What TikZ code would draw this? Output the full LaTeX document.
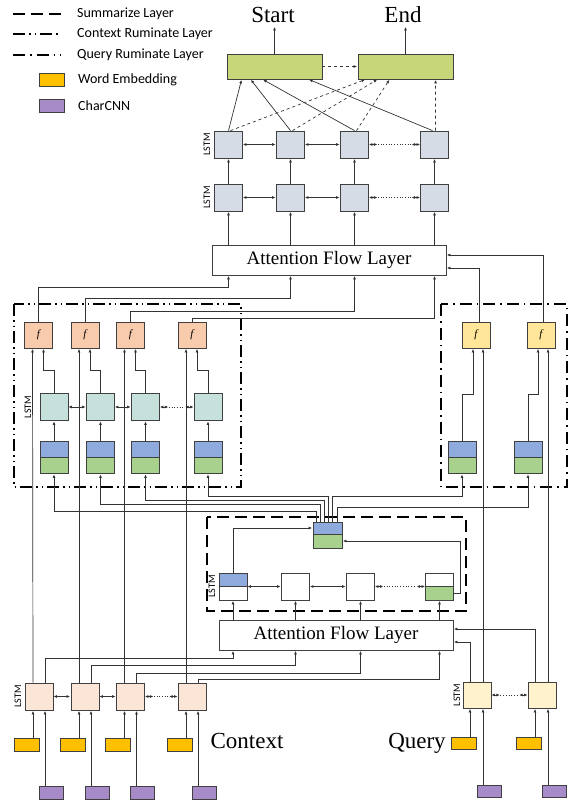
\documentclass[tikz,border=0pt]{standalone}
\usepackage{fontspec}
\setmainfont{Liberation Serif}
\newfontfamily\legendfont{Carlito}
\usetikzlibrary{arrows.meta}
\definecolor{outGreen}{HTML}{C8D67A}
\definecolor{modGray}{HTML}{D6DCE5}
\definecolor{rumTeal}{HTML}{C6E0DC}
\definecolor{ctxPeach}{HTML}{FBE5D6}
\definecolor{qryYellow}{HTML}{FFF2CC}
\definecolor{fCtx}{HTML}{F8CBAD}
\definecolor{fQry}{HTML}{FFE699}
\definecolor{embBlue}{HTML}{8FAADC}
\definecolor{embGreen}{HTML}{A9D18E}
\definecolor{wordOrange}{HTML}{FFC000}
\definecolor{charPurple}{HTML}{A68BC8}

\tikzset{
  >={Latex[length=3.5pt,width=3pt]},
  conn/.style={draw=black!80, line width=0.7pt, shorten >=0.5pt},
  cell/.style={draw=black!75, line width=0.8pt, minimum width=28pt, minimum height=27pt, inner sep=0pt},
  halfbox/.style={draw=black!75, line width=0.8pt, minimum width=28pt, minimum height=16pt, inner sep=0pt},
  fbox/.style={cell, minimum height=26pt, font=\itshape\fontsize{11}{13}\selectfont},
  outbox/.style={draw=black!75, line width=0.8pt, fill=outGreen, minimum width=95pt, minimum height=25pt},
  attbox/.style={draw=black!75, line width=0.8pt, minimum width=234pt, minimum height=30pt, font=\fontsize{19}{22}\selectfont},
  wordbox/.style={draw=black!75, line width=0.6pt, fill=wordOrange, minimum width=25pt, minimum height=13pt, inner sep=0pt},
  charbox/.style={draw=black!75, line width=0.6pt, fill=charPurple, minimum width=24pt, minimum height=13pt, inner sep=0pt},
  bigtext/.style={font=\fontsize{23}{27}\selectfont, inner sep=3pt, anchor=base},
  legtext/.style={font=\legendfont\fontsize{14}{16}\selectfont, inner sep=0pt, anchor=west},
  lstmlabel/.style={rotate=90, font=\legendfont\fontsize{10}{12}\selectfont, inner sep=0pt},
  topblue/.style={path picture={\fill[embBlue] (path picture bounding box.north west) rectangle (path picture bounding box.east);
      \draw[black!75] (path picture bounding box.west) -- (path picture bounding box.east);}},
  botgreen/.style={path picture={\fill[embGreen] (path picture bounding box.west) rectangle (path picture bounding box.south east);
      \draw[black!75] (path picture bounding box.west) -- (path picture bounding box.east);}},
  sumframe/.style={line width=1.5pt, dash pattern=on 12pt off 6pt},
  ctxframe/.style={line width=1.4pt, dash pattern=on 12pt off 4pt on 1.5pt off 4pt on 1.5pt off 4pt},
  qryframe/.style={line width=1.4pt, dash pattern=on 12pt off 5pt on 1.5pt off 5pt}
}
% two short double arrows joined by a dotted gap
\newcommand{\dottedlink}[2]{%
  \draw[conn,<->] (#1.east) -- ++(9,0);
  \draw[conn,<->] (#2.west) -- ++(-9,0);
  \draw[black!80, line width=0.7pt, dotted] ([xshift=9pt]#1.east) -- ([xshift=-9pt]#2.west);}

\begin{document}
\begin{tikzpicture}[x=1pt,y=-1pt]
\useasboundingbox (0,0) rectangle (569,802);

% legend
\draw[sumframe] (13,14) -- (61,14);
\draw[ctxframe] (13,34) -- (61,34);
\draw[qryframe] (13,55) -- (61,55);
\node[legtext] (legsum) at (77,14) {Summarize Layer};
\node[legtext] (legctx) at (77,34) {Context Ruminate Layer};
\node[legtext] (legqry) at (77,55) {Query Ruminate Layer};
\node[wordbox] (legword) at (51.5,80) {};
\node[legtext] (legwordtxt) at (78,80) {Word Embedding};
\node[charbox, minimum width=25pt] (legchar) at (51.5,106) {};
\node[legtext] (legchartxt) at (78,106) {CharCNN};

% output layer
\node[bigtext] (starttxt) at (273,23) {Start};
\node[bigtext] (endtxt) at (403,23) {End};
\node[outbox] (startbox) at (274.5,66.5) {};
\node[outbox] (endbox) at (405.5,66.5) {};
\draw[conn,->] (startbox.north) -- (startbox.north |- starttxt.south);
\draw[conn,->] (endbox.north) -- (endbox.north |- endtxt.south);
\draw[conn,->,dashed] (startbox.east) -- (endbox.west);

% modeling layer
\node[cell, fill=modGray] (mA1) at (228.5,144.5) {};
\node[cell, fill=modGray] (mA2) at (290.5,144.5) {};
\node[cell, fill=modGray] (mA3) at (354.5,144.5) {};
\node[cell, fill=modGray] (mA4) at (434.5,144.5) {};
\node[cell, fill=modGray] (mB1) at (228.5,197.5) {};
\node[cell, fill=modGray] (mB2) at (290.5,197.5) {};
\node[cell, fill=modGray] (mB3) at (354.5,197.5) {};
\node[cell, fill=modGray] (mB4) at (434.5,197.5) {};
\node[lstmlabel] (lblA) at (207,144.5) {LSTM};
\node[lstmlabel] (lblB) at (207,197.5) {LSTM};
\draw[conn,->] (mA1.north) -- ([xshift=15pt]startbox.south west);
\draw[conn,->] (mA2.north) -- ([xshift=24pt]startbox.south west);
\draw[conn,->] (mA3.north) -- ([xshift=36pt]startbox.south west);
\draw[conn,->] ([xshift=-2pt]mA4.north) -- ([xshift=82pt]startbox.south west);
\draw[conn,->,dashed] ([xshift=2pt]mA1.north) -- ([xshift=8pt]endbox.south west);
\draw[conn,->,dashed] ([xshift=2pt]mA2.north) -- ([xshift=20pt]endbox.south west);
\draw[conn,->,dashed] ([xshift=2pt]mA3.north) -- ([xshift=32pt]endbox.south west);
\draw[conn,->,dashed] ([xshift=1pt]mA4.north) -- ([xshift=78pt]endbox.south west);
\draw[conn,->] (mB1.north) -- (mA1.south);
\draw[conn,->] (mB2.north) -- (mA2.south);
\draw[conn,->] (mB3.north) -- (mA3.south);
\draw[conn,->] (mB4.north) -- (mA4.south);
\draw[conn,<->] (mA1.east) -- (mA2.west);
\draw[conn,<->] (mA2.east) -- (mA3.west);
\dottedlink{mA3}{mA4}
\draw[conn,<->] (mB1.east) -- (mB2.west);
\draw[conn,<->] (mB2.east) -- (mB3.west);
\dottedlink{mB3}{mB4}

% upper attention flow
\node[attbox] (att1) at (329,260) {Attention Flow Layer};
\draw[conn,->] (mB1 |- att1.north) -- (mB1.south);
\draw[conn,->] (mB2 |- att1.north) -- (mB2.south);
\draw[conn,->] (mB3 |- att1.north) -- (mB3.south);
\draw[conn,->] (mB4 |- att1.north) -- (mB4.south);

% context ruminate layer
\draw[ctxframe] (14,304) rectangle (241,487);
\node[fbox, fill=fCtx] (fc1) at (38.5,335) {f};
\node[fbox, fill=fCtx] (fc2) at (85,335) {f};
\node[fbox, fill=fCtx] (fc3) at (130.5,335) {f};
\node[fbox, fill=fCtx] (fc4) at (192,335) {f};
\node[cell, fill=rumTeal] (rc1) at (54,407) {};
\node[cell, fill=rumTeal] (rc2) at (100.5,407) {};
\node[cell, fill=rumTeal] (rc3) at (145.5,407) {};
\node[cell, fill=rumTeal] (rc4) at (208,407) {};
\node[lstmlabel] (lblR) at (28,407) {LSTM};
\node[halfbox, fill=embBlue] (bc1) at (54,449.5) {};
\node[halfbox, fill=embBlue] (bc2) at (100.5,449.5) {};
\node[halfbox, fill=embBlue] (bc3) at (145.5,449.5) {};
\node[halfbox, fill=embBlue] (bc4) at (208,449.5) {};
\node[halfbox, fill=embGreen] (gc1) at (54,465.5) {};
\node[halfbox, fill=embGreen] (gc2) at (100.5,465.5) {};
\node[halfbox, fill=embGreen] (gc3) at (145.5,465.5) {};
\node[halfbox, fill=embGreen] (gc4) at (208,465.5) {};
\draw[conn,->] (bc1.north) -- (rc1.south);
\draw[conn,->] (bc2.north) -- (rc2.south);
\draw[conn,->] (bc3.north) -- (rc3.south);
\draw[conn,->] (bc4.north) -- (rc4.south);
\draw[conn,<->] (rc1.east) -- (rc2.west);
\draw[conn,<->] (rc2.east) -- (rc3.west);
\dottedlink{rc3}{rc4}
\draw[conn,->] (rc1.north) -- ++(0,-23) -| ([xshift=5pt]fc1.south);
\draw[conn,->] (rc2.north) -- ++(0,-23) -| ([xshift=5pt]fc2.south);
\draw[conn,->] (rc3.north) -- ++(0,-23) -| ([xshift=5pt]fc3.south);
\draw[conn,->] (rc4.north) -- ++(0,-23) -| ([xshift=5pt]fc4.south);
\draw[conn,->] (fc1.north) -- (fc1.north |- 0,287) -| (mB1 |- att1.south);
\draw[conn,->] (fc2.north) -- (fc2.north |- 0,298) -| (mB2 |- att1.south);
\draw[conn,->] (fc3.north) -- (fc3.north |- 0,311) -| (mB3 |- att1.south);
\draw[conn,->] (fc4.north) -- (fc4.north |- 0,318) -| (mB4 |- att1.south);

% query ruminate layer
\draw[qryframe] (441,304) rectangle (567,487);
\node[fbox, fill=fQry] (fq1) at (476,335) {f};
\node[fbox, fill=fQry] (fq2) at (541,335) {f};
\node[halfbox, fill=embBlue] (bq1) at (462,449.5) {};
\node[halfbox, fill=embBlue] (bq2) at (528,449.5) {};
\node[halfbox, fill=embGreen] (gq1) at (462,465.5) {};
\node[halfbox, fill=embGreen] (gq2) at (528,465.5) {};
\draw[conn,->] (bq1.north) -- ++(0,-47) -| ([xshift=-3pt]fq1.south);
\draw[conn,->] (bq2.north) -- ++(0,-47) -| ([xshift=-3pt]fq2.south);
\draw[conn,->] ([xshift=3pt]fq1.north) |- ([yshift=-8pt]att1.east);
\draw[conn,->] ([xshift=2pt]fq2.north) |- ([yshift=5pt]att1.east);

% summarize layer
\draw[sumframe] (207,517) rectangle (466,611);
\node[halfbox, fill=embBlue, minimum width=29pt, minimum height=12pt] (sumb) at (327.5,528) {};
\node[halfbox, fill=embGreen, minimum width=29pt, minimum height=14pt] (sumg) at (327.5,541) {};
\draw[conn,->] ([xshift=-11pt]sumb.north) -- ++(0,-10) -| (gc1.south);
\draw[conn,->] ([xshift=-7pt]sumb.north) -- ++(0,-17) -| (gc2.south);
\draw[conn,->] ([xshift=-3pt]sumb.north) -- ++(0,-21) -| (gc3.south);
\draw[conn,->] ([xshift=1pt]sumb.north) -- ++(0,-25) -| (gc4.south);
\draw[conn,->] ([xshift=5pt]sumb.north) -- ++(0,-25) -| (gq1.south);
\draw[conn,->] ([xshift=10pt]sumb.north) -- ++(0,-14) -| (gq2.south);
\node[cell, fill=white, topblue] (s1) at (233,586.5) {};
\node[cell, fill=white] (s2) at (295.5,586.5) {};
\node[cell, fill=white] (s3) at (360.5,586.5) {};
\node[cell, fill=white, botgreen] (s4) at (439.5,586.5) {};
\node[lstmlabel] (lblS) at (212,586.5) {LSTM};
\draw[conn,<->] (s1.east) -- (s2.west);
\draw[conn,<->] (s2.east) -- (s3.west);
\dottedlink{s3}{s4}
\draw[conn,->] (s1.north) |- (sumb.west);
\draw[conn,->] ([yshift=-7pt]s4.east) -- ++(6,0) |- (sumg.east);

% lower attention flow
\node[attbox] (att0) at (336,635) {Attention Flow Layer};
\draw[conn,->] (s1 |- att0.north) -- (s1.south);
\draw[conn,->] (s2 |- att0.north) -- (s2.south);
\draw[conn,->] (s3 |- att0.north) -- (s3.south);
\draw[conn,->] (s4 |- att0.north) -- (s4.south);

% context encoder
\node[cell, fill=ctxPeach] (c1) at (39,696.5) {};
\node[cell, fill=ctxPeach] (c2) at (85,696.5) {};
\node[cell, fill=ctxPeach] (c3) at (130.5,696.5) {};
\node[cell, fill=ctxPeach] (c4) at (192,696.5) {};
\node[lstmlabel] (lblC) at (18,696.5) {LSTM};
\draw[conn,<->] (c1.east) -- (c2.west);
\draw[conn,<->] (c2.east) -- (c3.west);
\dottedlink{c3}{c4}
\node[wordbox] (wc1) at (26.5,745) {};
\node[wordbox] (wc2) at (72.5,745) {};
\node[wordbox] (wc3) at (118,745) {};
\node[wordbox] (wc4) at (179.5,745) {};
\node[charbox] (cc1) at (51,792.5) {};
\node[charbox] (cc2) at (97,792.5) {};
\node[charbox] (cc3) at (142.5,792.5) {};
\node[charbox] (cc4) at (204,792.5) {};
\draw[conn,->] ([xshift=6.5pt]wc1.north) -- ([xshift=-6pt]c1.south);
\draw[conn,->] ([xshift=6.5pt]wc2.north) -- ([xshift=-6pt]c2.south);
\draw[conn,->] ([xshift=6.5pt]wc3.north) -- ([xshift=-6pt]c3.south);
\draw[conn,->] ([xshift=6.5pt]wc4.north) -- ([xshift=-6pt]c4.south);
\draw[conn,->] ([xshift=-6pt]cc1.north) -- ([xshift=6pt]c1.south);
\draw[conn,->] ([xshift=-6pt]cc2.north) -- ([xshift=6pt]c2.south);
\draw[conn,->] ([xshift=-6pt]cc3.north) -- ([xshift=6pt]c3.south);
\draw[conn,->] ([xshift=-6pt]cc4.north) -- ([xshift=6pt]c4.south);
\draw[conn,->] ([xshift=6pt]c1.north) -- ++(0,-24) -| (s1 |- att0.south);
\draw[conn,->] ([xshift=6pt]c2.north) -- ++(0,-17) -| (s2 |- att0.south);
\draw[conn,->] ([xshift=6pt]c3.north) -- ++(0,-9) -| (s3 |- att0.south);
\draw[conn,->] ([xshift=6pt]c4.north) -- ++(0,-3) -| (s4 |- att0.south);
\draw[conn,->] ([xshift=-6pt]c1.north) -- ([xshift=-6pt]fc1.south);
\draw[conn,->] ([xshift=-6pt]c2.north) -- ([xshift=-6pt]fc2.south);
\draw[conn,->] ([xshift=-6pt]c3.north) -- ([xshift=-6pt]fc3.south);
\draw[conn,->] ([xshift=-6pt]c4.north) -- ([xshift=-6pt]fc4.south);
\node[bigtext] (ctxtxt) at (247,748) {Context};

% query encoder
\node[cell, fill=qryYellow, minimum height=26pt] (q1) at (477,695) {};
\node[cell, fill=qryYellow, minimum height=26pt] (q2) at (542,695) {};
\node[lstmlabel] (lblQ) at (457,695) {LSTM};
\dottedlink{q1}{q2}
\node[wordbox, minimum height=12pt] (wq1) at (464,743) {};
\node[wordbox, minimum height=12pt] (wq2) at (529,743) {};
\node[charbox, minimum height=12pt] (cq1) at (489,791) {};
\node[charbox, minimum height=12pt] (cq2) at (554,791) {};
\draw[conn,->] ([xshift=6pt]wq1.north) -- ([xshift=-7pt]q1.south);
\draw[conn,->] ([xshift=6pt]wq2.north) -- ([xshift=-7pt]q2.south);
\draw[conn,->] ([xshift=-6pt]cq1.north) -- ([xshift=6pt]q1.south);
\draw[conn,->] ([xshift=-6pt]cq2.north) -- ([xshift=6pt]q2.south);
\draw[conn,->] ([xshift=-7pt]q1.north) |- ([yshift=-7pt]att0.east);
\draw[conn,->] ([xshift=-7pt]q2.north) |- ([yshift=6pt]att0.east);
\draw[conn,->] ([xshift=6pt]q1.north) -- ([xshift=7pt]fq1.south);
\draw[conn,->] ([xshift=6pt]q2.north) -- ([xshift=7pt]fq2.south);
\node[bigtext] (qrytxt) at (417,748) {Query};
\end{tikzpicture}
\end{document}
